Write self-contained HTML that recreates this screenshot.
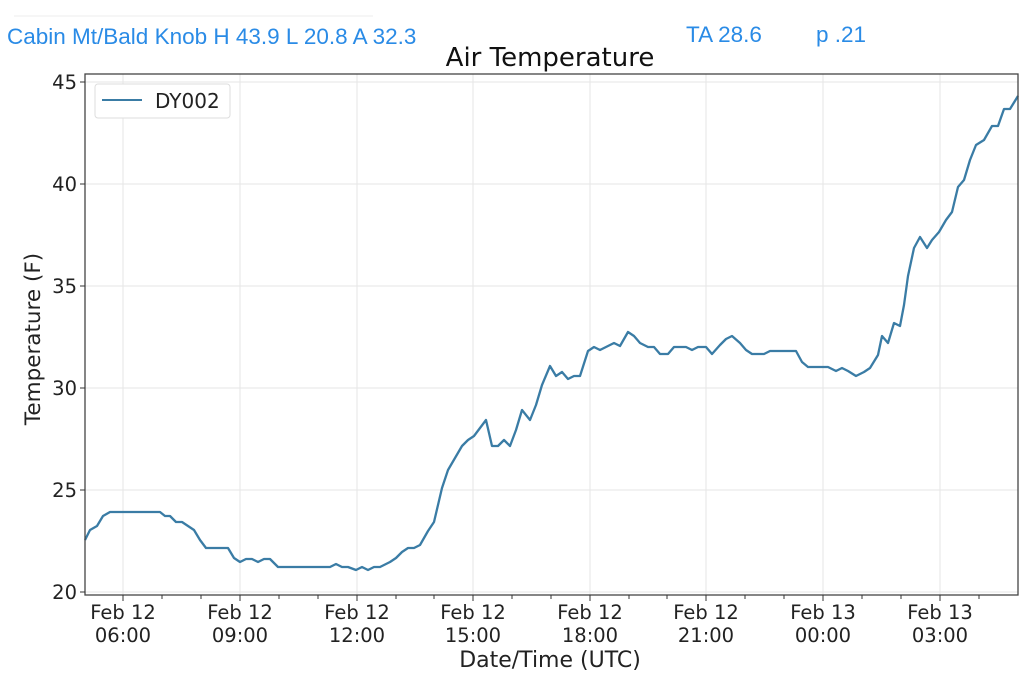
<!DOCTYPE html>
<html><head><meta charset="utf-8"><style>
body{margin:0;background:#fff;}
svg{display:block;font-family:"DejaVu Sans","Liberation Sans",sans-serif;}
</style></head><body>
<svg width="1024" height="689" viewBox="0 0 1024 689" xmlns="http://www.w3.org/2000/svg">
<line x1="14" y1="16" x2="373" y2="16" stroke="#eee" stroke-width="1"/>
<g fill="#2a8be6" font-family="Liberation Sans, sans-serif" font-size="22.5">
<text x="7" y="44">Cabin Mt/Bald Knob H 43.9 L 20.8 A 32.3</text>
<text x="686" y="42">TA 28.6</text>
<text x="816" y="42">p .21</text>
</g>
<text x="550" y="66" font-size="26" text-anchor="middle" fill="#111">Air Temperature</text>
<g stroke="#e6e6e6" stroke-width="1">
<line x1="85" y1="82" x2="1018" y2="82"/><line x1="85" y1="184" x2="1018" y2="184"/>
<line x1="85" y1="286" x2="1018" y2="286"/><line x1="85" y1="388" x2="1018" y2="388"/>
<line x1="85" y1="490" x2="1018" y2="490"/><line x1="85" y1="592" x2="1018" y2="592"/>
<line x1="123" y1="74" x2="123" y2="595"/><line x1="240" y1="74" x2="240" y2="595"/>
<line x1="357" y1="74" x2="357" y2="595"/><line x1="473" y1="74" x2="473" y2="595"/>
<line x1="590" y1="74" x2="590" y2="595"/><line x1="706" y1="74" x2="706" y2="595"/>
<line x1="823" y1="74" x2="823" y2="595"/><line x1="940" y1="74" x2="940" y2="595"/>
</g>
<polyline fill="none" stroke="#3a7ca5" stroke-width="2.3" stroke-linejoin="round" points="85,540 90,530 97,526 103,516 110,512 160,512 165,516 170,516 176,522 182,522 188,526 194,530 200,540 206,548 228,548 234,558 240,562 246,559 252,559 258,562 264,559 270,559 278,567 330,567 336,564 342,567 348,567 356,570 362,567 368,570 374,567 380,567 390,562 396,558 402,552 408,548 414,548 420,545 428,531 434,522 438,505 442,488 448,470 455,458 462,446 468,440 474,436 480,428 486,420 492,446 498,446 504,440 510,446 516,430 522,410 530,420 536,405 542,385 550,366 556,376 562,372 568,379 574,376 580,376 588,351 594,347 600,350 606,347 614,343 620,346 628,332 634,336 640,343 648,347 654,347 660,354 668,354 674,347 686,347 692,350 698,347 706,347 712,354 720,345 726,339 732,336 740,343 746,350 752,354 764,354 770,351 796,351 802,362 808,367 828,367 836,371 842,368 848,371 856,376 864,372 870,368 878,355 882,336 888,343 894,323 900,326 904,305 908,276 914,248 920,237 927,248 932,240 939,232 946,220 952,212 958,187 964,180 970,160 976,145 984,140 992,126 998,126 1004,109 1010,109 1018,96"/>
<rect x="85" y="74" width="933" height="521" fill="none" stroke="#444" stroke-width="1.3"/>
<g stroke="#333" stroke-width="1">
<line x1="80" y1="82" x2="85" y2="82"/><line x1="80" y1="184" x2="85" y2="184"/>
<line x1="80" y1="286" x2="85" y2="286"/><line x1="80" y1="388" x2="85" y2="388"/>
<line x1="80" y1="490" x2="85" y2="490"/><line x1="80" y1="592" x2="85" y2="592"/>
<line x1="123" y1="595" x2="123" y2="601"/><line x1="240" y1="595" x2="240" y2="601"/>
<line x1="357" y1="595" x2="357" y2="601"/><line x1="473" y1="595" x2="473" y2="601"/>
<line x1="590" y1="595" x2="590" y2="601"/><line x1="706" y1="595" x2="706" y2="601"/>
<line x1="823" y1="595" x2="823" y2="601"/><line x1="940" y1="595" x2="940" y2="601"/>
<line x1="162" y1="595" x2="162" y2="599"/><line x1="201" y1="595" x2="201" y2="599"/>
<line x1="279" y1="595" x2="279" y2="599"/><line x1="318" y1="595" x2="318" y2="599"/>
<line x1="396" y1="595" x2="396" y2="599"/><line x1="434" y1="595" x2="434" y2="599"/>
<line x1="512" y1="595" x2="512" y2="599"/><line x1="551" y1="595" x2="551" y2="599"/>
<line x1="629" y1="595" x2="629" y2="599"/><line x1="667" y1="595" x2="667" y2="599"/>
<line x1="745" y1="595" x2="745" y2="599"/><line x1="784" y1="595" x2="784" y2="599"/>
<line x1="862" y1="595" x2="862" y2="599"/><line x1="901" y1="595" x2="901" y2="599"/>
<line x1="979" y1="595" x2="979" y2="599"/>
</g>
<g font-size="19.5" fill="#222" text-anchor="end">
<text x="77" y="89">45</text><text x="77" y="191">40</text><text x="77" y="293">35</text>
<text x="77" y="395">30</text><text x="77" y="497">25</text><text x="77" y="599">20</text>
</g>
<g font-size="19.5" fill="#222" text-anchor="middle">
<text x="123" y="619">Feb 12</text><text x="123" y="642">06:00</text>
<text x="240" y="619">Feb 12</text><text x="240" y="642">09:00</text>
<text x="357" y="619">Feb 12</text><text x="357" y="642">12:00</text>
<text x="473" y="619">Feb 12</text><text x="473" y="642">15:00</text>
<text x="590" y="619">Feb 12</text><text x="590" y="642">18:00</text>
<text x="706" y="619">Feb 12</text><text x="706" y="642">21:00</text>
<text x="823" y="619">Feb 13</text><text x="823" y="642">00:00</text>
<text x="940" y="619">Feb 13</text><text x="940" y="642">03:00</text>
<text x="550" y="667" font-size="22">Date/Time (UTC)</text>
</g>
<text transform="translate(40,339) rotate(-90)" font-size="21.5" fill="#222" text-anchor="middle">Temperature (F)</text>
<rect x="95" y="84" width="135" height="34" rx="3" fill="#fff" stroke="#ddd"/>
<line x1="102" y1="100" x2="142" y2="100" stroke="#3a7ca5" stroke-width="2"/>
<text x="155" y="108" font-size="20" fill="#222">DY002</text>
</svg>
</body></html>
